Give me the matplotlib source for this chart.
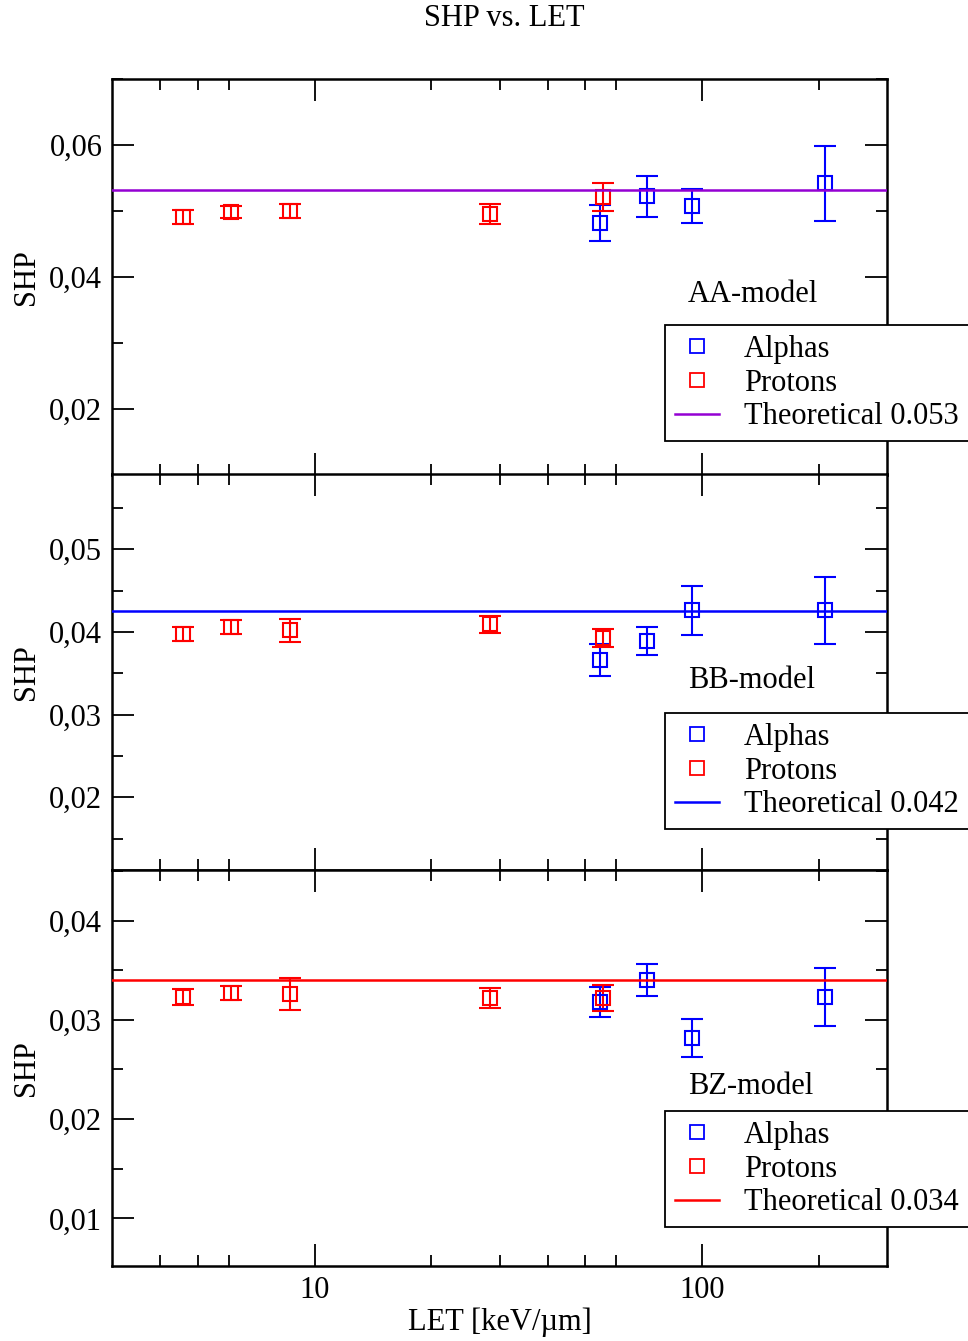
# SHP vs. LET for three models (AA, BB, BZ)
import matplotlib
matplotlib.use('Agg')
import matplotlib.pyplot as plt
from matplotlib.lines import Line2D
from matplotlib.ticker import FixedLocator, FuncFormatter, MultipleLocator, NullFormatter

plt.rcParams['font.family'] = ['Liberation Serif', 'DejaVu Serif']

# LET values [keV/um]
proton_let = [4.57, 6.08, 8.65, 28.4, 55.4]
alpha_let = [54.5, 71.9, 94.2, 207.6]

# AA-model
aa_proton_shp = [0.0491, 0.0498, 0.0500, 0.0496, 0.0521]
aa_proton_err = [0.0010, 0.0009, 0.0010, 0.0015, 0.0021]
aa_alpha_shp = [0.0482, 0.0522, 0.0508, 0.0542]
aa_alpha_err = [0.0027, 0.0031, 0.0026, 0.0057]
aa_theory = 0.0532

# BB-model
bb_proton_shp = [0.0397, 0.0406, 0.0402, 0.0409, 0.0393]
bb_proton_err = [0.00085, 0.00085, 0.0014, 0.0010, 0.0011]
bb_alpha_shp = [0.0366, 0.0389, 0.0426, 0.0426]
bb_alpha_err = [0.0019, 0.0017, 0.0030, 0.0041]
bb_theory = 0.0425

# BZ-model
bz_proton_shp = [0.0323, 0.0327, 0.0326, 0.0322, 0.0322]
bz_proton_err = [0.0008, 0.0007, 0.0016, 0.0010, 0.0013]
bz_alpha_shp = [0.0318, 0.0340, 0.0282, 0.0323]
bz_alpha_err = [0.0015, 0.0016, 0.0019, 0.0029]
bz_theory = 0.0340

model_names = ['AA-model', 'BB-model', 'BZ-model']
theory_labels = ['Theoretical 0.053', 'Theoretical 0.042', 'Theoretical 0.034']
theory_colors = ['#9400d3', 'blue', 'red']
proton_shp = [aa_proton_shp, bb_proton_shp, bz_proton_shp]
proton_err = [aa_proton_err, bb_proton_err, bz_proton_err]
alpha_shp = [aa_alpha_shp, bb_alpha_shp, bz_alpha_shp]
alpha_err = [aa_alpha_err, bb_alpha_err, bz_alpha_err]
theory = [aa_theory, bb_theory, bz_theory]

# panel layout (pixels of a 968x1341 figure)
W, H = 968, 1341
panel_tops = [79, 474, 870]
panel_h = 396
ylims = [(0.01, 0.07), (0.0112, 0.0591), (0.0052, 0.0451)]
major_steps = [0.02, 0.01, 0.01]
minor_steps = [0.01, 0.005, 0.005]
label_y = [294, 681, 1086]
legend_tops = [325, 713, 1111]

fig = plt.figure(figsize=(W / 100, H / 100), dpi=100)
fs = 22

for i in range(3):
    ax = fig.add_axes([112 / W, 1 - (panel_tops[i] + panel_h) / H, 775 / W, panel_h / H])
    c = theory_colors[i]

    ax.errorbar(alpha_let, alpha_shp[i], yerr=alpha_err[i], fmt='s', mfc='none', mec='blue',
                ecolor='blue', ms=10, mew=1.5, elinewidth=1.5, capsize=8, capthick=1.5, zorder=3)
    ax.errorbar(proton_let, proton_shp[i], yerr=proton_err[i], fmt='s', mfc='none', mec='red',
                ecolor='red', ms=10, mew=1.5, elinewidth=1.5, capsize=8, capthick=1.5, zorder=3)
    ax.axhline(theory[i], color=c, lw=1.8, zorder=4)

    ax.set_xscale('log')
    ax.set_xlim(3, 300)
    ax.set_ylim(*ylims[i])
    ax.xaxis.set_major_locator(FixedLocator([10, 100]))
    ax.xaxis.set_minor_locator(FixedLocator([4, 5, 6, 20, 30, 40, 50, 60, 200]))
    ax.xaxis.set_minor_formatter(NullFormatter())
    if i < 2:
        ax.xaxis.set_major_formatter(NullFormatter())
    else:
        ax.xaxis.set_major_formatter(FuncFormatter(lambda v, p: '%d' % v))
    ax.yaxis.set_major_locator(MultipleLocator(major_steps[i]))
    ax.yaxis.set_minor_locator(MultipleLocator(minor_steps[i]))
    ax.yaxis.set_major_formatter(FuncFormatter(lambda v, p: ('%.2f' % v).replace('.', ',')))

    ax.tick_params(which='both', direction='in', top=True, right=True, labelsize=fs, width=1.3)
    ax.tick_params(which='major', length=16, pad=7)
    ax.tick_params(which='minor', length=8)
    for s in ax.spines.values():
        s.set_linewidth(1.8)

    # model name
    fig.text(688 / W, 1 - label_y[i] / H, model_names[i], fontsize=fs, ha='left', va='center')
    # y label
    fig.text(26 / W, 1 - (panel_tops[i] + panel_h / 2) / H, 'SHP', fontsize=fs,
             rotation=90, ha='center', va='center')

    handles = [
        Line2D([], [], marker='s', ls='none', mfc='none', mec='blue', ms=10, mew=1.3),
        Line2D([], [], marker='s', ls='none', mfc='none', mec='red', ms=10, mew=1.3),
        Line2D([], [], color=c, lw=1.8),
    ]
    leg = ax.legend(handles, ['Alphas', 'Protons', theory_labels[i]], loc='upper left',
                    bbox_to_anchor=(665 / W, 1 - legend_tops[i] / H), bbox_transform=fig.transFigure,
                    fontsize=fs, frameon=True, fancybox=False, framealpha=1, borderaxespad=0,
                    borderpad=0.33, handlelength=1.45, handletextpad=0.8, labelspacing=0.15)
    leg.get_frame().set_edgecolor('black')
    leg.get_frame().set_linewidth(1.3)
    leg.set_zorder(10)

fig.text(504 / W, 1 - 18 / H, 'SHP vs. LET', fontsize=fs, ha='center', va='center')
fig.text(500 / W, 1 - 1322 / H, 'LET [keV/µm]', fontsize=fs, ha='center', va='center')

fig.savefig('out.png', dpi=100)
